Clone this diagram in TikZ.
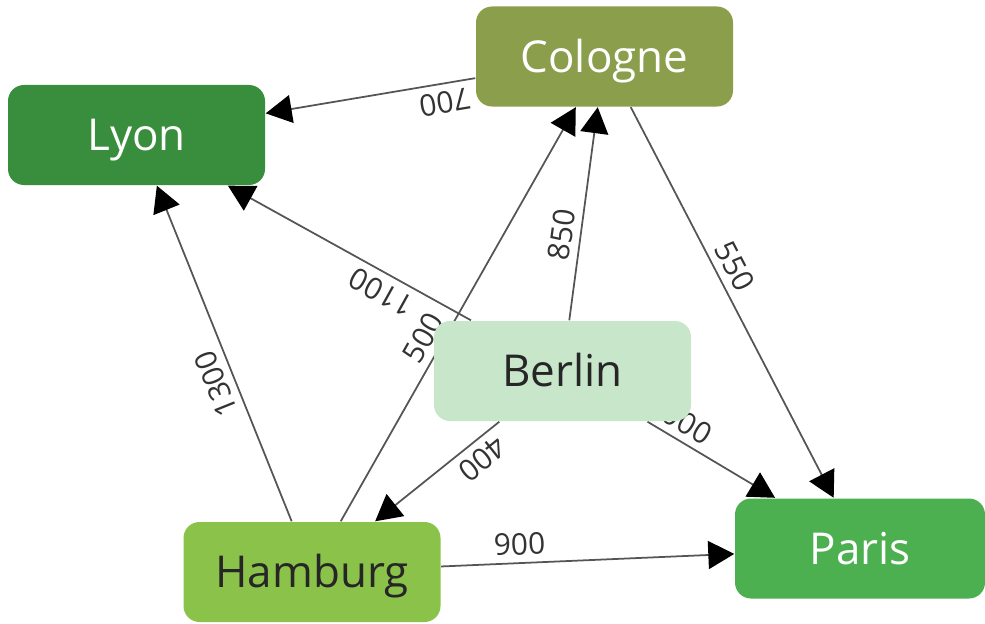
\documentclass[tikz,border=0pt]{standalone}
\usepackage{fontspec}
\setmainfont{Open Sans}
\usetikzlibrary{arrows.meta,backgrounds}
\definecolor{cologneC}{HTML}{8A9E4B}
\definecolor{lyonC}{HTML}{388E3C}
\definecolor{berlinC}{HTML}{C8E6C9}
\definecolor{hamburgC}{HTML}{8BC34A}
\definecolor{parisC}{HTML}{4CAF50}
\definecolor{roadC}{HTML}{555555}
\definecolor{distC}{HTML}{333333}
\tikzset{>=stealth,
  city/.style={rounded corners=0.16cm, minimum width=2.57cm, minimum height=1cm,
    font=\fontsize{12.5}{15}\selectfont, text height=8.9pt, text depth=0pt},
  road/.style={draw=roadC, line width=0.5pt,
    -{Triangle[length=2.6mm,width=2.8mm,color=black]}},
  dist/.style={sloped, allow upside down, above, inner sep=2pt, text=distC,
    font=\fontsize{8.5}{10}\selectfont}}

\begin{document}
\begin{tikzpicture}
\useasboundingbox (0,0) rectangle (9.85,6.23);
\node[city, fill=cologneC, text=white] (cologne) at (6.045,5.665) {Cologne};
\node[city, fill=lyonC, text=white] (lyon) at (1.365,4.88) {Lyon};
\node[city, fill=berlinC, text=black!85] (berlin) at (5.625,2.52) {Berlin};
\node[city, fill=hamburgC, text=black!85] (hamburg) at (3.12,0.51) {Hamburg};
\node[city, fill=parisC, text=white, minimum width=2.5cm] (paris) at (8.60,0.745) {Paris};
% roads under the boxes
\begin{scope}[on background layer]
\draw[road] (cologne) -- node[dist, pos=0.16] {700} (lyon);
\draw[road] (cologne) -- node[dist, pos=0.43] {550} (paris);
\draw[road] (berlin) -- node[dist, pos=0.33] {1100} (lyon);
\draw[road] (berlin) -- node[dist, pos=0.39] {850} (cologne);
\draw[road] (berlin) -- node[dist, pos=0.18] {1000} (paris);
\draw[road] (berlin) -- node[dist, pos=0.23] {400} (hamburg);
\draw[road] (hamburg) -- node[dist, pos=0.43] {1300} (lyon);
\draw[road] (hamburg) -- node[dist, pos=0.42] {500} (cologne);
\draw[road] (hamburg) -- node[dist, pos=0.27] {900} (paris);
\end{scope}
\end{tikzpicture}
\end{document}
